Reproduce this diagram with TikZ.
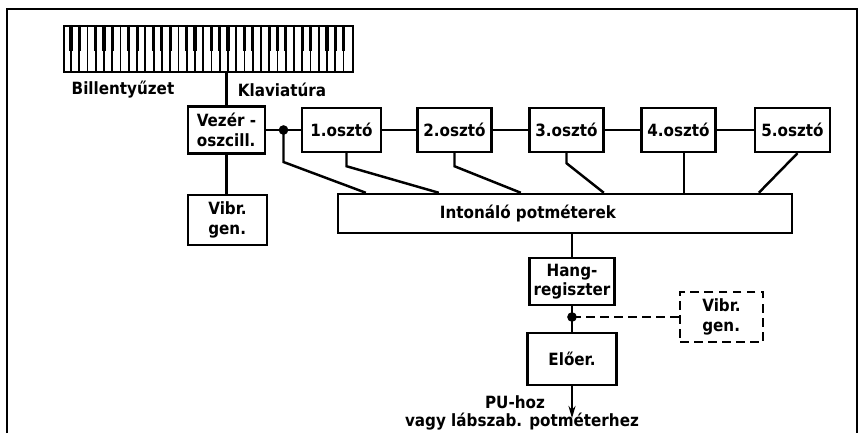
\documentclass[tikz,border=0pt]{standalone}
\usepackage{fontspec}
\setmainfont{DejaVu Sans Condensed}
\usetikzlibrary{arrows.meta, positioning, calc}
\tikzset{
  blockbox/.style={rectangle, draw, line width=1.4pt, font=\fontsize{9.6}{11}\selectfont\bfseries,
    inner sep=2pt, minimum height=0.9cm},
  osztobox/.style={blockbox, minimum width=1.48cm, minimum height=0.88cm},
  dashbox/.style={blockbox, dash pattern=on 5pt off 3pt},
  link/.style={line width=1.4pt},
  dlink/.style={line width=1.4pt, dash pattern=on 5pt off 3pt},
  junction/.style={circle, fill, inner sep=0pt, minimum size=5.5pt},
  caption/.style={font=\fontsize{9.6}{11}\selectfont\bfseries, inner sep=1pt},
}

\begin{document}
\begin{tikzpicture}[x=0.02cm, y=-0.02cm]
\useasboundingbox (0,0) rectangle (865,433);

%% FRAME
\draw[line width=0.9pt] (7,433) -- (7,9) -- (857,9) -- (857,433);

%% KEYBOARD
\node[draw, line width=1.4pt, minimum width=5.78cm, minimum height=0.92cm, inner sep=0pt]
  (keyb) at (208.5,49) {};
\foreach \k in {1,...,34}
  \draw[line width=1pt] ($(keyb.north west)+(\k*8.257,0)$) -- ++(0,46);
\foreach \o in {0,...,4}
  \foreach \b in {0,1,3,4,5}
    \fill ($(keyb.north west)+(\o*57.8+\b*8.257+8.257-1.6,0)$) rectangle ++(3.2,26);

\node[caption] (billt) at (123,90) {Billentyűzet};
\node[caption] (klav)  at (282,90) {Klaviatúra};

%% OSCILLATOR AND DIVIDERS
\node[blockbox, minimum width=1.54cm, minimum height=0.94cm, align=left]
  (vezer) at (226.5,130) {Vezér -\\oszcill.};
\node[osztobox, minimum width=1.58cm] (osz1) at (341.5,130) {1.osztó};
\node[osztobox] (osz2) at (454.5,130) {2.osztó};
\node[osztobox] (osz3) at (566.5,130) {3.osztó};
\node[osztobox] (osz4) at (678.5,130) {4.osztó};
\node[osztobox, minimum width=1.5cm] (osz5) at (792.5,130) {5.osztó};

\node[blockbox, minimum width=1.58cm, minimum height=1.0cm, align=left]
  (vibr1) at (227.5,220) {Vibr.\\gen.};

%% POTENTIOMETERS
\node[blockbox, minimum width=9.08cm, minimum height=0.78cm] (inton) at (565,213.5) {};
\node[caption] (intonlbl) at (528,213.5) {Intonáló potméterek};

%% OUTPUT CHAIN
\node[blockbox, minimum width=1.7cm, minimum height=0.94cm, align=center]
  (hang) at (572,281.5) {Hang-\\regiszter};
\node[blockbox, minimum width=1.78cm, minimum height=1.04cm] (eloer) at (572,359) {Előer.};
\node[dashbox, minimum width=1.66cm, minimum height=1.0cm, align=left]
  (vibr2) at (721.5,317) {Vibr.\\gen.};

\node[caption] (pu)  at (515,402) {PU-hoz};
\node[caption] (lab) at (522,422) {vagy lábszab. potméterhez};

%% CONNECTORS
\draw[link] (vezer.north) -- (vezer.north |- keyb.south);
\draw[link] (vezer.south) -- (vezer.south |- vibr1.north);
\draw[link] (vezer) -- (osz1);
\draw[link] (osz1) -- (osz2);
\draw[link] (osz2) -- (osz3);
\draw[link] (osz3) -- (osz4);
\draw[link] (osz4) -- (osz5);

\coordinate (j1) at ($(vezer.east)!0.5!(osz1.west)$);
\coordinate (in1) at ($(inton.north west)+(29,0)$);
\coordinate (in2) at ($(inton.north west)+(102,0)$);
\coordinate (in3) at ($(inton.north west)+(184,0)$);
\coordinate (in4) at ($(inton.north west)+(267,0)$);
\coordinate (in5) at ($(inton.north west)+(347,0)$);
\coordinate (in6) at ($(inton.north west)+(422,0)$);

\draw[link] (j1) -- ++(0,32) -- (in1);
\draw[link] ($(osz1.south)+(5,0)$) -- ++(0,13) -- (in2);
\draw[link] (osz2.south) -- ++(0,13) -- (in3);
\draw[link] (osz3.south) -- ++(0,10) -- (in4);
\draw[link] (in5 |- osz4.south) -- (in5);
\draw[link] ($(osz5.south)+(5,0)$) -- (in6);
\node[junction] (j1dot) at (j1) {};

\draw[link] (hang.north |- inton.south) -- (hang.north);
\draw[link] (hang.south) -- (eloer.north);
\coordinate (j2) at (hang.south |- vibr2.west);
\draw[dlink] (j2) -- (vibr2.west);
\node[junction] (j2dot) at (j2) {};
\draw[link, -{Stealth[length=7pt, width=4pt]}] (eloer.south) -- ++(0,32) coordinate (out);

\end{tikzpicture}
\end{document}
